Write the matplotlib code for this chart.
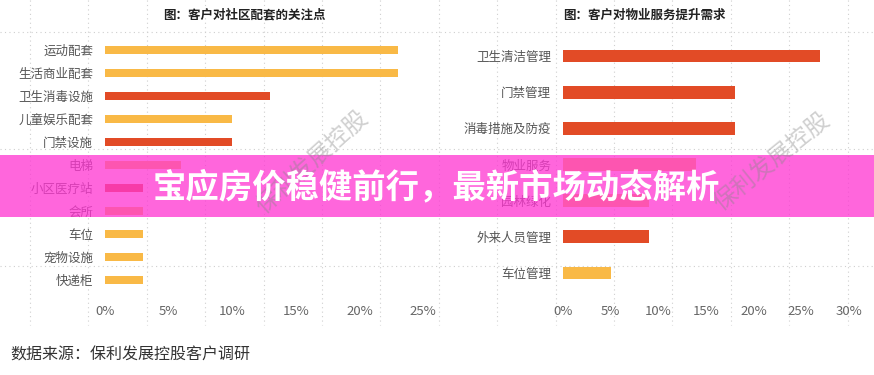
import numpy as np
import matplotlib
matplotlib.use("Agg")
import matplotlib.pyplot as plt
from matplotlib.patches import Rectangle

plt.rcParams['font.family'] = ['Noto Sans CJK SC', 'DejaVu Sans']

# data
left_title = "图：客户对社区配套的关注点"
left_cats = ["运动配套", "生活商业配套", "卫生消毒设施", "儿童娱乐配套", "门禁设施",
             "电梯", "小区医疗站", "会所", "车位", "宠物设施", "快递柜"]
left_vals = [23, 23, 13, 10, 10, 6, 3, 3, 3, 3, 3]
left_kind = ["y", "y", "r", "y", "r", "y", "r", "y", "y", "y", "y"]
left_ticks = [0, 5, 10, 15, 20, 25]

right_title = "图：客户对物业服务提升需求"
right_cats = ["卫生清洁管理", "门禁管理", "消毒措施及防疫", "物业服务", "园林绿化",
              "外来人员管理", "车位管理"]
right_vals = [27, 18, 18, 14, 9, 9, 5]
right_kind = ["r", "r", "r", "y", "y", "r", "y"]
right_ticks = [0, 5, 10, 15, 20, 25, 30]

banner_text = "宝应房价稳健前行，最新市场动态解析"
source_text = "数据来源：保利发展控股客户调研"
watermark = "保利发展控股"

colors = {"y": "#F9B946", "r": "#E24B26"}

W, H = 874, 375
fig = plt.figure(figsize=(W / 100, H / 100), dpi=100)

# background dotted paper grid
bg = fig.add_axes([0, 0, 1, 1], zorder=0)
bg.set_xlim(0, W)
bg.set_ylim(H, 0)
bg.axis("off")
for x in 30 + 58.4 * np.arange(15):
    bg.plot([x, x], [0, 325], color="#cfcfcf", lw=0.8, ls=(0, (1, 3)))
for y in [32, 149, 266]:
    bg.plot([0, W], [y, y], color="#cfcfcf", lw=0.8, ls=(0, (1, 3)))


def bar_panel(rect, cats, vals, kinds, ticks, title, title_x):
    ax = fig.add_axes(rect, zorder=1)
    ax.patch.set_alpha(0)
    pos = np.arange(len(cats))
    ax.barh(pos, vals, height=0.35, color=[colors[k] for k in kinds])
    ax.set_ylim(len(cats) - 0.5, -0.5)
    ax.set_xlim(ticks[0], ticks[-1])
    ax.set_yticks(pos)
    ax.set_yticklabels(cats, fontsize=9, color="#555555")
    ax.set_xticks(ticks)
    ax.set_xticklabels([f"{t}%" for t in ticks], fontsize=9.5, color="#666666")
    ax.tick_params(axis="y", length=0, pad=8.5)
    ax.tick_params(axis="x", length=0, pad=10)
    for s in ax.spines.values():
        s.set_visible(False)
    fig.text(title_x / W, 1 - 15 / H, title, ha="center", va="center",
             fontsize=9, fontweight="bold", color="#222222")
    return ax


bar_panel([105 / W, 1 - 291.5 / H, 318 / W, 253 / H],
          left_cats, left_vals, left_kind, left_ticks, left_title, 244)
bar_panel([563 / W, 1 - 291 / H, 286 / W, 253 / H],
          right_cats, right_vals, right_kind, right_ticks, right_title, 644)

# banner
fig.patches.append(Rectangle((0, 1 - 217 / H), 1, 62 / H, transform=fig.transFigure,
                             facecolor="#FF36D2", alpha=0.76, edgecolor="none", zorder=5))
fig.text(436 / W, 1 - 187 / H, banner_text, ha="center", va="center",
         fontsize=24, fontweight="black", color="white", zorder=7)

# watermarks
for cx, ang in [(312, 42), (772, 39)]:
    fig.text(cx / W, 1 - 162 / H, watermark, ha="center", va="center", rotation=ang,
             fontsize=17, fontweight="light", color="#888888", alpha=0.4, zorder=6)

fig.text(10 / W, 1 - 355 / H, source_text, ha="left", va="center",
         fontsize=11.5, color="#333333")

fig.savefig("out.png", dpi=100)
